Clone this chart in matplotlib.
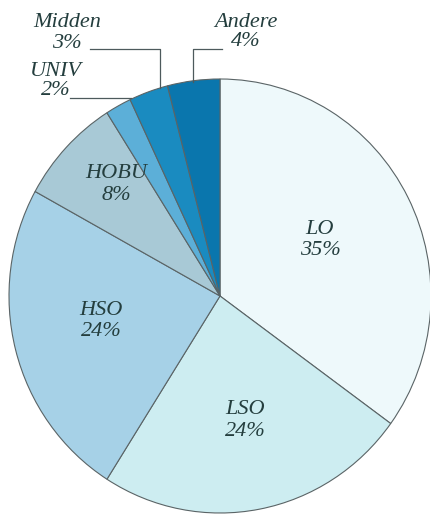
import numpy as np
import matplotlib.pyplot as plt

# Data
categories = ['LO', 'LSO', 'HSO', 'HOBU', 'UNIV', 'Midden', 'Andere']
shares = [35, 24, 24, 8, 2, 3, 4]
colors = ['#eef9fb', '#cdedf1', '#a6d1e7', '#a8c9d6', '#5cafd8', '#1a8bc0', '#0a76ad']

# pixel -> data helper (pie is a little taller than wide in the scan)
CX, CY, RX, RY = 220, 296, 211, 217


def px(x, y):
    return (x - CX) / RX, (CY - y) / RY


fig = plt.figure(figsize=(4.31, 5.15), dpi=100)
ax = fig.add_axes([(CX - RX) / 431, 1 - (CY + RY) / 515, 2 * RX / 431, 2 * RY / 515])

wedges, _ = ax.pie(shares, colors=colors, startangle=90, counterclock=False,
                   radius=1, center=(0, 0),
                   wedgeprops=dict(edgecolor='#5a6466', linewidth=0.8))
ax.set_xlim(-1, 1)
ax.set_ylim(-1, 1)
ax.set_aspect('auto')
ax.axis('off')

txt = dict(family='Liberation Serif', style='italic', color='#243e3e',
           fontsize=16, ha='center', va='center', clip_on=False)

# label positions in pixels (name line, percent line)
label_pos = {
    'LO': (320, 229, 250),
    'LSO': (245, 410, 432),
    'HSO': (101, 310, 331),
    'HOBU': (116, 173, 195),
    'UNIV': (56, 71, 90),
    'Midden': (67, 22, 43),
    'Andere': (246, 22, 41),
}
for cat, val in zip(categories, shares):
    x, y1, y2 = label_pos[cat]
    ax.text(*px(x, y1), cat, **txt)
    ax.text(*px(x, y2), f'{val}%', **txt)

# leader lines
line = dict(color='#4d5a5c', lw=0.9, clip_on=False)
ax.plot(*zip(px(90, 49), px(160, 49), px(160, 88)), **line)
ax.plot(*zip(px(222, 49), px(193, 49), px(193, 82)), **line)
ax.plot(*zip(px(70, 98), px(131, 98)), **line)

fig.savefig('out.png', dpi=100)
